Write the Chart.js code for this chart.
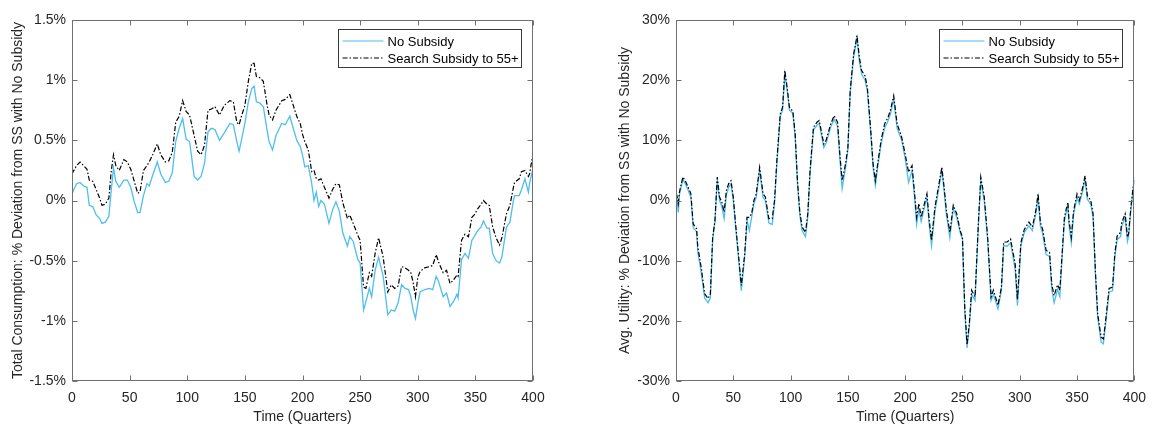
<!DOCTYPE html>
<html>
<head>
<meta charset="utf-8">
<script src="https://cdn.jsdelivr.net/npm/chart.js@4/dist/chart.umd.min.js"></script>
<style>
  html, body { margin: 0; padding: 0; background: #fff; }
  #wrap { position: relative; width: 1155px; height: 432px; }
  canvas { position: absolute; top: 0; }
</style>
</head>
<body>
<div id="wrap">
  <canvas id="consChart" width="560" height="432" style="left:0px"></canvas>
  <canvas id="utilChart" width="577" height="432" style="left:578px"></canvas>
</div>
<script>
// ---- Data ----
const seriesNames = ['No Subsidy', 'Search Subsidy to 55+'];
const xTicks = [0, 50, 100, 150, 200, 250, 300, 350, 400];

// Left panel: total consumption (% deviation)
const consQ = [0,1,4,7,10,13,15,18,21,24,26,29,32,34,36,38,41,45,48,51,54,57,59,62,65,67,70,74,77,81,84,87,90,93,96,99,
  102,106,109,112,115,118,121,124,128,132,137,140,143,145,147,150,153,156,158,160,163,166,169,171,174,177,182,185,189,192,195,198,
  200,202,205,208,210,212,214,216,219,223,226,229,232,235,239,241,244,248,250,253,255,258,260,263,266,270,274,277,280,283,286,289,292,294,296,298,
  300,302,306,310,313,316,318,322,325,328,331,334,335,338,341,344,347,349,352,355,357,360,362,365,368,371,373,377,380,383,384,388,390,393,396,397,400];
const consNoSub = [0.05,0.08,0.14,0.15,0.12,0.11,-0.04,-0.05,-0.12,-0.15,-0.19,-0.18,-0.13,0.08,0.27,0.16,0.11,0.17,0.17,0.11,-0.01,-0.1,-0.1,0.04,0.14,0.12,0.21,0.32,0.22,0.15,0.16,0.23,0.49,0.6,0.68,0.51,
  0.49,0.2,0.17,0.2,0.31,0.57,0.6,0.59,0.5,0.56,0.64,0.63,0.49,0.41,0.5,0.64,0.82,0.93,0.95,0.82,0.81,0.78,0.6,0.49,0.42,0.54,0.64,0.63,0.7,0.6,0.5,0.45,
  0.38,0.28,0.29,0.14,0.0,0.07,-0.05,0.0,-0.03,-0.19,-0.08,-0.01,-0.09,-0.27,-0.38,-0.3,-0.34,-0.49,-0.52,-0.91,-0.84,-0.73,-0.8,-0.58,-0.47,-0.63,-0.95,-0.91,-0.92,-0.85,-0.7,-0.73,-0.74,-0.8,-0.91,-0.98,
  -0.86,-0.76,-0.74,-0.73,-0.74,-0.63,-0.67,-0.8,-0.77,-0.88,-0.84,-0.78,-0.81,-0.49,-0.44,-0.48,-0.33,-0.3,-0.25,-0.22,-0.17,-0.23,-0.23,-0.44,-0.5,-0.52,-0.47,-0.22,-0.18,0.0,0.04,0.04,0.09,0.18,0.07,0.14,0.27];
const consSub = [0.22,0.24,0.29,0.32,0.29,0.26,0.17,0.16,0.09,0.02,-0.04,-0.03,0.02,0.24,0.38,0.29,0.25,0.34,0.32,0.26,0.16,0.06,0.07,0.25,0.29,0.32,0.38,0.47,0.38,0.32,0.33,0.4,0.65,0.7,0.83,0.74,
  0.71,0.54,0.41,0.38,0.46,0.75,0.76,0.78,0.71,0.79,0.83,0.82,0.65,0.63,0.7,0.79,0.99,1.14,1.14,1.03,1.02,0.99,0.81,0.71,0.67,0.75,0.83,0.84,0.88,0.79,0.7,0.64,
  0.55,0.49,0.42,0.24,0.25,0.18,0.17,0.18,0.11,0.02,0.09,0.14,0.13,-0.02,-0.15,-0.12,-0.19,-0.29,-0.33,-0.72,-0.73,-0.6,-0.63,-0.44,-0.31,-0.47,-0.76,-0.7,-0.73,-0.71,-0.55,-0.56,-0.58,-0.6,-0.68,-0.8,
  -0.64,-0.59,-0.56,-0.55,-0.54,-0.45,-0.51,-0.6,-0.58,-0.69,-0.66,-0.62,-0.63,-0.33,-0.28,-0.3,-0.14,-0.12,-0.07,-0.03,0.0,-0.03,-0.04,-0.22,-0.31,-0.37,-0.31,-0.11,-0.04,0.11,0.15,0.18,0.24,0.25,0.2,0.22,0.39];

// Right panel: average utility (% deviation)
const utilQ = [0,1,2,3,6,8,10,13,15,18,19,22,25,28,30,32,34,36,38,40,42,44,46,48,50,52,55,57,60,62,64,66,68,70,73,76,78,81,84,86,88,91,93,95,97,99,
  102,104,106,108,110,113,115,117,120,123,125,129,131,135,138,141,143,145,148,150,152,155,158,160,162,165,167,170,172,174,176,179,182,185,187,190,193,196,197,
  200,203,206,208,210,212,214,216,219,221,223,226,229,232,234,236,239,242,245,248,250,252,254,256,258,261,264,266,269,272,275,277,281,284,286,289,292,294,296,298,
  301,304,308,311,314,316,318,320,323,326,328,330,333,335,337,339,340,342,343,345,347,350,352,355,357,359,362,364,366,368,371,373,375,378,381,383,385,388,389,392,394,395,397,400];
const utilSub = [0,0.6,-0.5,1.4,3.9,3.3,2.5,1.1,-3.9,-4.7,-7.7,-11.1,-15.5,-16.3,-15.5,-6.1,-3.3,3.9,0.6,-0.3,-1.9,1.7,2.8,3.3,0.6,-3.9,-10,-14.1,-8.8,-2.8,-2.8,-2.2,0,1.1,5.5,1.1,0.6,-3,-3,0,6.6,14.4,15.5,21.6,18.8,15.5,
  14.8,11.1,3.3,-1.7,-4.4,-5.3,-2.2,5,12.2,13,13.3,9.4,10,12.7,14.1,13,7.7,3.3,6.1,8.8,18.2,24.3,27.4,23.8,21.6,20.7,18.8,11.6,6.1,3.3,6.1,10,12.7,13.8,14.9,17.4,12.7,11.1,10.5,
  7.7,4.7,5.8,1.7,-2.8,-0.5,-2.8,-1.1,1.1,-3.3,-6.6,-1.1,2.2,5.5,2.2,-1.7,-5.3,-0.8,-2.2,-5,-6.1,-17.7,-24,-20.4,-14.9,-16,-3.3,3.9,0.6,-6.1,-16,-14.9,-17.4,-14.4,-6.9,-6.9,-6.4,-8.5,-10.5,-16.5,
  -7,-4.8,-3.6,-4.4,-1.7,1.1,-3.6,-4.8,-8.3,-8.6,-14,-15.8,-14,-14.9,-8.8,-2.8,-1.9,-0.3,-3.3,-6.1,-1.7,1.1,0,2.2,4.1,0.8,0,-2.2,-11.6,-18.8,-22.7,-23,-19.9,-14.6,-14.4,-8.8,-5.9,-5.3,-3.7,-2.2,-6.1,-5.5,-1.1,3.9];
const utilNoSub = [-1,0,-2,1,3.5,2.8,2,0.5,-4.5,-5.2,-8.5,-12,-16.2,-17,-16.2,-6.5,-3.6,3.5,0,-1,-3,1,2.2,2.8,0,-4.3,-10.5,-15,-9.3,-3.3,-5,-2.8,-0.5,0.5,5,0.5,0,-3.7,-4,-0.5,6,14,15,21,18.3,15,
  14.5,10.5,2.8,-2.3,-5,-6,-2.8,4.5,11.7,12.5,12.8,8.8,9.5,12.2,13.5,12.3,7,2,5.5,8.3,17.7,23.8,27,23.2,21,20,18.2,11,5.5,2.5,5.5,9.4,12,13.2,14.3,16.8,12,10.5,10,
  7,3,5,1,-4,-1.5,-3.5,-1.8,0.5,-4,-7.5,-1.8,1.6,5,1.6,-2.3,-6.2,-1.4,-2.8,-5.3,-6.5,-18.3,-24.5,-21,-15.6,-16.6,-3.8,3.3,0,-6.6,-16.6,-15.6,-18,-15,-7.5,-7.6,-7,-9.2,-11.5,-17.5,
  -7.5,-5.3,-4.2,-5,-2.3,0.5,-4.2,-5.5,-9,-9.3,-14.8,-17,-14.8,-16,-9.4,-3.4,-2.5,-1,-4,-7,-2.3,0.5,-0.6,1.6,3.5,0.2,-0.6,-2.8,-12.2,-19.4,-23.5,-23.8,-20.5,-15.2,-15,-9.4,-6.5,-6,-4.3,-2.8,-6.8,-6,-1.6,3.3];

// ---- Styling helpers ----
const FONT = 'Liberation Sans, Arial, Helvetica, sans-serif';
const TXT = '#262626';
const AXC = '#707070';
const BLUE = '#4DBEEE';

const toXY = (qs, vs) => qs.map((q, i) => ({ x: q, y: vs[i] }));

// frame, inward ticks and an inside legend like the original figure
const framePlugin = {
  id: 'frame',
  afterDraw(chart) {
    const { ctx, chartArea: a, scales: { x, y } } = chart;
    ctx.save();
    ctx.strokeStyle = AXC;
    ctx.lineWidth = 1;
    const L = Math.round(a.left) + 0.5, R = Math.round(a.right) - 0.5;
    const T = Math.round(a.top) + 0.5, B = Math.round(a.bottom) - 0.5;
    ctx.strokeRect(L, T, R - L, B - T);
    ctx.beginPath();
    x.ticks.forEach(t => {
      const px = Math.round(x.getPixelForValue(t.value)) + 0.5;
      ctx.moveTo(px, B); ctx.lineTo(px, B - 5);
      ctx.moveTo(px, T); ctx.lineTo(px, T + 5);
    });
    y.ticks.forEach(t => {
      const py = Math.round(y.getPixelForValue(t.value)) + 0.5;
      ctx.moveTo(L, py); ctx.lineTo(L + 5, py);
      ctx.moveTo(R, py); ctx.lineTo(R - 5, py);
    });
    ctx.stroke();

    // legend box
    const w = 183, h = 38;
    const bx = Math.round(a.right - 12 - w) + 0.5, by = Math.round(a.top + 9) + 0.5;
    ctx.fillStyle = '#fff';
    ctx.fillRect(bx, by, w, h);
    ctx.strokeStyle = '#3a3a3a';
    ctx.strokeRect(bx, by, w, h);
    ctx.font = '13px ' + FONT;
    ctx.textBaseline = 'middle';
    ctx.fillStyle = '#000';
    const rows = [by + 11.5, by + 28.5];
    const ds = chart.data.datasets;
    ds.forEach((d, i) => {
      ctx.beginPath();
      ctx.strokeStyle = d.borderColor;
      ctx.lineWidth = 1.2;
      ctx.setLineDash(d.borderDash || []);
      ctx.moveTo(bx + 4, rows[i]); ctx.lineTo(bx + 45, rows[i]);
      ctx.stroke();
      ctx.setLineDash([]);
      ctx.fillText(d.label, bx + 49, rows[i] + 1);
    });
    ctx.restore();
  }
};

function makeChart(id, qs, noSub, sub, yMin, yMax, yStep, yTitle, yWidth, titlePad, padRight) {
  return new Chart(document.getElementById(id), {
    type: 'line',
    data: {
      datasets: [
        {
          label: seriesNames[0],
          data: toXY(qs, noSub),
          borderColor: BLUE,
          borderWidth: 1.3,
          pointRadius: 0,
          tension: 0,
          order: 1
        },
        {
          label: seriesNames[1],
          data: toXY(qs, sub),
          borderColor: '#000',
          borderWidth: 1.2,
          borderDash: [5, 2, 1.5, 2],
          pointRadius: 0,
          tension: 0,
          order: 0
        }
      ]
    },
    options: {
      responsive: false,
      animation: false,
      layout: { padding: { left: 0, top: 20, right: padRight, bottom: 0 } },
      plugins: { legend: { display: false }, tooltip: { enabled: false } },
      scales: {
        x: {
          type: 'linear',
          min: 0, max: 400,
          afterBuildTicks: s => { s.ticks = xTicks.map(v => ({ value: v })); },
          afterFit: s => { s.height = 51; },
          grid: { display: false, drawTicks: false },
          border: { display: false },
          ticks: { padding: 9, color: TXT, font: { family: FONT, size: 14 }, maxRotation: 0, autoSkip: false },
          title: { display: true, text: 'Time (Quarters)', color: TXT, font: { family: FONT, size: 14 }, padding: { top: 0, bottom: 6.8 } }
        },
        y: {
          min: yMin, max: yMax,
          ticks: {
            stepSize: yStep, padding: 6, color: TXT, font: { family: FONT, size: 14 },
            callback: v => `${+v.toFixed(1)}%`
          },
          afterFit: s => { s.width = yWidth; },
          grid: { display: false, drawTicks: false },
          border: { display: false },
          title: { display: true, text: yTitle, color: TXT, font: { family: FONT, size: 14 }, padding: { top: titlePad, bottom: 0 } }
        }
      }
    },
    plugins: [framePlugin]
  });
}

makeChart('consChart', consQ, consNoSub, consSub, -1.5, 1.5, 0.5,
  'Total Consumption: % Deviation from SS with No Subsidy', 72, 9.6, 27);
makeChart('utilChart', utilQ, utilNoSub, utilSub, -30, 30, 10,
  'Avg. Utility: % Deviation from SS with No Subsidy', 98, 38.6, 18);
</script>
</body>
</html>
